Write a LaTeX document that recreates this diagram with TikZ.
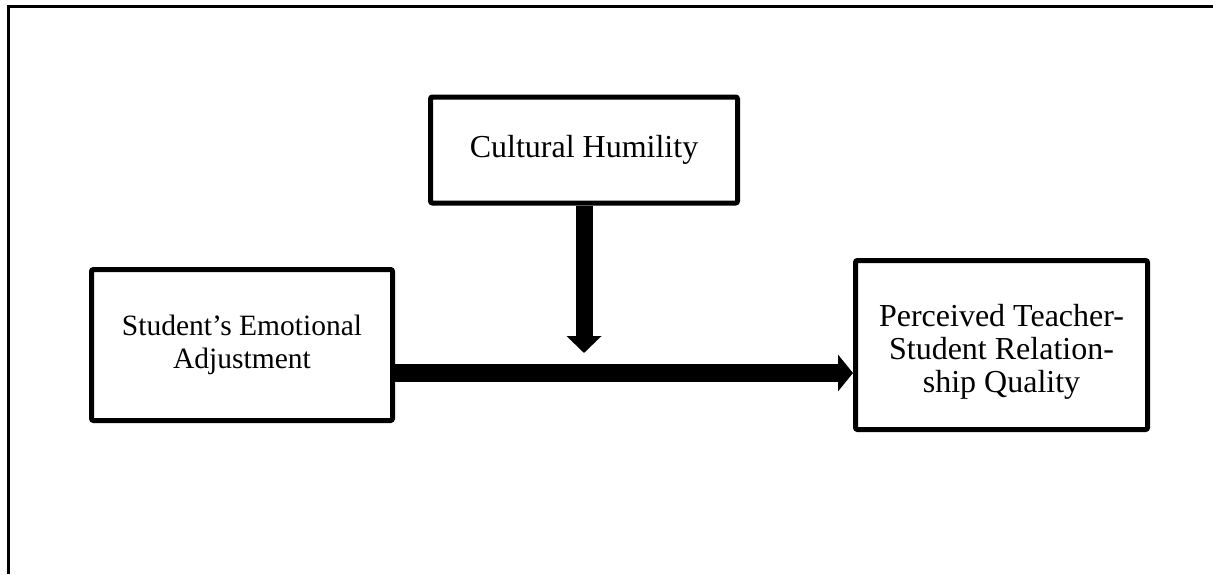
\documentclass[tikz,border=0pt]{standalone}
\usepackage{fontspec}
\setmainfont{Liberation Serif}
\usetikzlibrary{arrows.meta}
\tikzset{>=latex}
\tikzset{
  varbox/.style={draw=black, line width=2.5pt, rounded corners=1pt, align=center, inner sep=0pt, font=\fontsize{16}{16.5}\selectfont},
  bigarrow/.style={line width=9pt, -{Triangle[width=18pt,length=7.5pt]}}
}

\begin{document}
\begin{tikzpicture}[x=0.5pt,y=-0.5pt]
        \useasboundingbox (0,0) rectangle (1213,574);
        \draw[line width=1.5pt] (1213,6) -- (8,6) -- (8,574);
        \node[varbox, minimum width=153.5pt, minimum height=53pt] (humility) at (584,150) {Cultural Humility};
        \node[varbox, minimum width=150.5pt, minimum height=75.5pt, font=\fontsize{14.75}{16.5}\selectfont] (adjust) at (242,345) {Student’s Emotional\\Adjustment};
        \node[varbox, minimum width=146pt, minimum height=84.5pt] (quality) at (1001.5,345) {\rule{0pt}{18pt}Perceived Teacher-\\Student Relation-\\ship Quality};
        \coordinate (mod) at (584,353);
        \draw[bigarrow] ([yshift=-14pt]adjust.east) -- ([yshift=-14pt]quality.west);
        \draw[line width=8.5pt, -{Triangle[width=17pt,length=8.5pt]}] (humility.south) -- (mod);
\end{tikzpicture}
\end{document}
